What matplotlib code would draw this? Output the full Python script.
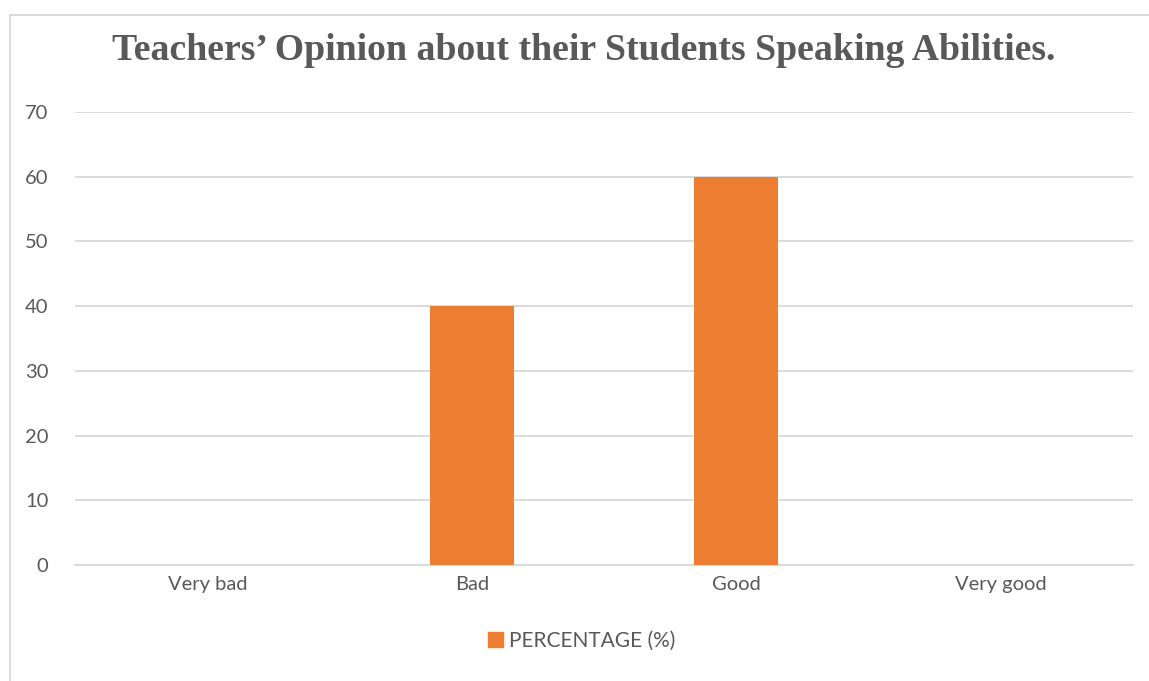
import numpy as np
import matplotlib.pyplot as plt
from matplotlib.lines import Line2D
from matplotlib.patches import Patch

categories = ['Very bad', 'Bad', 'Good', 'Very good']
percentage = [0, 40, 60, 0]
y_ticks = [0, 10, 20, 30, 40, 50, 60, 70]

grey_text = '#595959'
grid_col = '#d9d9d9'
bar_col = '#ED7D31'

fig = plt.figure(figsize=(11.49, 6.81), dpi=100)
ax = fig.add_axes([75 / 1149, 116 / 681, 1058 / 1149, 453 / 681])

x = np.arange(len(categories))
ax.bar(x, percentage, width=0.318, color=bar_col, zorder=3)

ax.set_xlim(-0.5, 3.5)
ax.set_ylim(0, 70)
ax.set_yticks(y_ticks)
ax.set_xticks(x)
ax.set_xticklabels(categories)
ax.grid(axis='y', color=grid_col, linewidth=1.3, zorder=0)
for s in ['top', 'right', 'left']:
    ax.spines[s].set_visible(False)
ax.spines['bottom'].set_color(grid_col)
ax.spines['bottom'].set_linewidth(1.3)
ax.tick_params(axis='y', length=0, pad=19, labelsize=14.5, labelcolor=grey_text)
ax.tick_params(axis='x', length=0, pad=8, labelsize=14.5, labelcolor=grey_text)
for lab in ax.get_xticklabels() + ax.get_yticklabels():
    lab.set_family('Lato')

fig.text(584 / 1149, 1 - 51 / 681, 'Teachers\u2019 Opinion about their Students Speaking Abilities.',
         ha='center', va='center', fontsize=27.2, fontweight='bold',
         family='Liberation Serif', color=grey_text)

leg = fig.legend(handles=[Patch(color=bar_col, label='PERCENTAGE (%)')],
                 loc='center', bbox_to_anchor=(582 / 1149, 1 - 641 / 681),
                 frameon=False, handlelength=0.7, handleheight=0.7, handletextpad=0.3,
                 prop={'family': 'Lato', 'size': 15})
for t in leg.get_texts():
    t.set_color(grey_text)

# outer chart border (top and left edges visible)
fig.add_artist(Line2D([10 / 1149, 1], [1 - 15 / 681] * 2, color=grid_col, lw=1.3))
fig.add_artist(Line2D([10 / 1149] * 2, [0, 1 - 15 / 681], color=grid_col, lw=1.3))

fig.savefig('out.png', dpi=100)
